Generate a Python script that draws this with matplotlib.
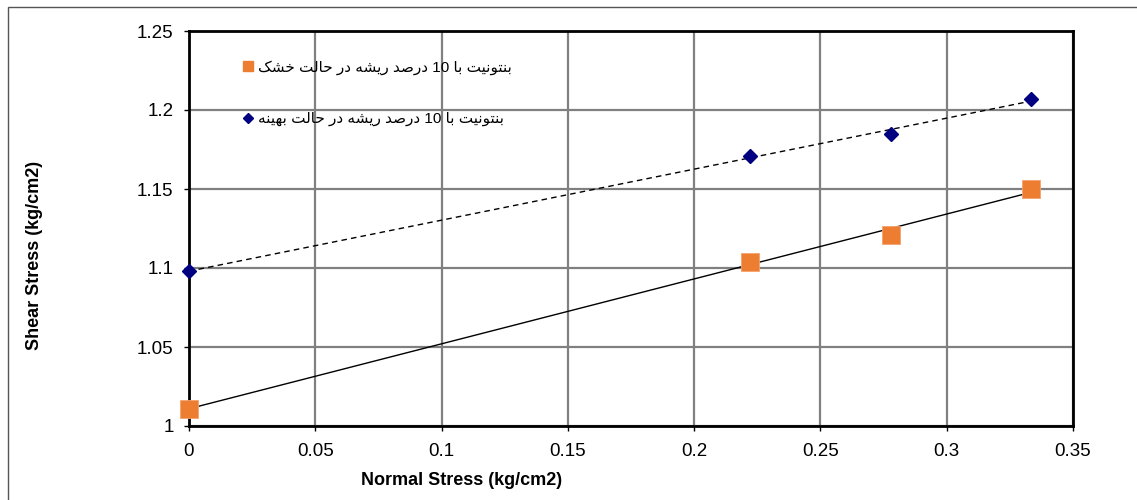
import re
import numpy as np
import matplotlib
matplotlib.use("Agg")
import matplotlib.pyplot as plt
from matplotlib.lines import Line2D
from matplotlib.patches import Rectangle
from matplotlib.font_manager import FontProperties

# ---- data -------------------------------------------------------------
normal_stress = [0.0, 0.2222, 0.2778, 0.3333]
shear_dry = [1.011, 1.104, 1.121, 1.150]
shear_optimum = [1.098, 1.171, 1.185, 1.207]

label_dry = "بنتونیت با 10 درصد ریشه در حالت خشک"
label_optimum = "بنتونیت با 10 درصد ریشه در حالت بهینه"

x_ticks = [0, 0.05, 0.1, 0.15, 0.2, 0.25, 0.3, 0.35]
x_tick_labels = ["0", "0.05", "0.1", "0.15", "0.2", "0.25", "0.3", "0.35"]
y_ticks = [1.0, 1.05, 1.1, 1.15, 1.2, 1.25]
y_tick_labels = ["1", "1.05", "1.1", "1.15", "1.2", "1.25"]

x_title = "Normal Stress (kg/cm2)"
y_title = "Shear Stress (kg/cm2)"

# ---- minimal Persian shaping (presentation forms + visual order) -------
# forms: (isolated, final, initial, medial); None for right-joining letters
FORMS = {
    "ا": ("\uFE8D", "\uFE8E", None, None),
    "ب": ("\uFE8F", "\uFE90", "\uFE91", "\uFE92"),
    "ت": ("\uFE95", "\uFE96", "\uFE97", "\uFE98"),
    "ح": ("\uFEA1", "\uFEA2", "\uFEA3", "\uFEA4"),
    "خ": ("\uFEA5", "\uFEA6", "\uFEA7", "\uFEA8"),
    "د": ("\uFEA9", "\uFEAA", None, None),
    "ر": ("\uFEAD", "\uFEAE", None, None),
    "ش": ("\uFEB5", "\uFEB6", "\uFEB7", "\uFEB8"),
    "ص": ("\uFEB9", "\uFEBA", "\uFEBB", "\uFEBC"),
    "ل": ("\uFEDD", "\uFEDE", "\uFEDF", "\uFEE0"),
    "ن": ("\uFEE5", "\uFEE6", "\uFEE7", "\uFEE8"),
    "ه": ("\uFEE9", "\uFEEA", "\uFEEB", "\uFEEC"),
    "و": ("\uFEED", "\uFEEE", None, None),
    "ی": ("\uFEF1", "\uFEF2", "\uFEF3", "\uFEF4"),
    "ک": ("\uFB8E", "\uFB8F", "\uFB90", "\uFB91"),
}


def shape_persian(text):
    chars = list(text)
    out = []
    for i, c in enumerate(chars):
        if c not in FORMS:
            out.append(c)
            continue
        forms = FORMS[c]
        prev = chars[i - 1] if i > 0 else None
        nxt = chars[i + 1] if i + 1 < len(chars) else None
        joins_prev = prev in FORMS and FORMS[prev][2] is not None
        joins_next = nxt in FORMS and forms[2] is not None
        if joins_prev and joins_next:
            out.append(forms[3])
        elif joins_prev:
            out.append(forms[1])
        elif joins_next:
            out.append(forms[2])
        else:
            out.append(forms[0])
    visual = "".join(out)[::-1]
    # keep digit runs left-to-right
    return re.sub(r"\d+", lambda m: m.group(0)[::-1], visual)


# ---- figure -----------------------------------------------------------
plt.rcParams["font.family"] = ["Liberation Sans", "DejaVu Sans"]

fig = plt.figure(figsize=(11.37, 5.0), dpi=100)
ax = fig.add_axes([0.1662, 0.148, 0.7775, 0.790])

# outer chart frame
fig.patches.append(Rectangle((8 / 1137, -0.05), 1.1, 1 - 7 / 500 + 0.05,
                             transform=fig.transFigure, fill=False,
                             edgecolor="#555555", linewidth=1.0))

# trend lines
xs = np.array(normal_stress)
for ys, style in ((shear_dry, "-"), (shear_optimum, (0, (4, 3)))):
    k, b = np.polyfit(xs, np.array(ys), 1)
    xl = np.array([xs.min(), xs.max()])
    ax.plot(xl, k * xl + b, color="black", linewidth=1.0, linestyle=style,
            zorder=3)

ax.plot(normal_stress, shear_dry, linestyle="none", marker="s",
        markersize=13, color="#ED7D31", markeredgecolor="#F4A36E",
        markeredgewidth=0.6, zorder=4, clip_on=False)
ax.plot(normal_stress, shear_optimum, linestyle="none", marker="D",
        markersize=7.5, color="#000080", zorder=4, clip_on=False)

ax.set_xlim(0, 0.35)
ax.set_ylim(1.0, 1.25)
ax.set_xticks(x_ticks)
ax.set_xticklabels(x_tick_labels)
ax.set_yticks(y_ticks)
ax.set_yticklabels(y_tick_labels)
ax.tick_params(direction="out", length=3.6, width=1, labelsize=13.5,
               colors="black")
ax.tick_params(axis="x", pad=8.5)
ax.tick_params(axis="y", pad=7.5)

ax.grid(True, color="#808080", linewidth=1.6)
ax.set_axisbelow(True)
for sp in ax.spines.values():
    sp.set_color("black")
    sp.set_linewidth(2.0)

ax.set_xlabel(x_title, fontsize=13, fontweight="bold")
ax.set_ylabel(y_title, fontsize=13, fontweight="bold")
ax.xaxis.set_label_coords(0.308, -0.116)
ax.yaxis.set_label_coords(-0.165, 0.433)

handles = [
    Line2D([], [], linestyle="none", marker="s", markersize=6.5,
           color="#ED7D31"),
    Line2D([], [], linestyle="none", marker="D", markersize=5,
           color="#000080"),
]
leg = ax.legend(handles, [shape_persian(label_dry), shape_persian(label_optimum)],
                loc="upper left", bbox_to_anchor=(0.055, 0.942),
                frameon=False, handlelength=0.6, handletextpad=0.35,
                labelspacing=2.45, borderaxespad=0,
                prop=FontProperties(family=["Liberation Sans", "DejaVu Sans"],
                                    size=11))

fig.savefig("out.png", dpi=100)
